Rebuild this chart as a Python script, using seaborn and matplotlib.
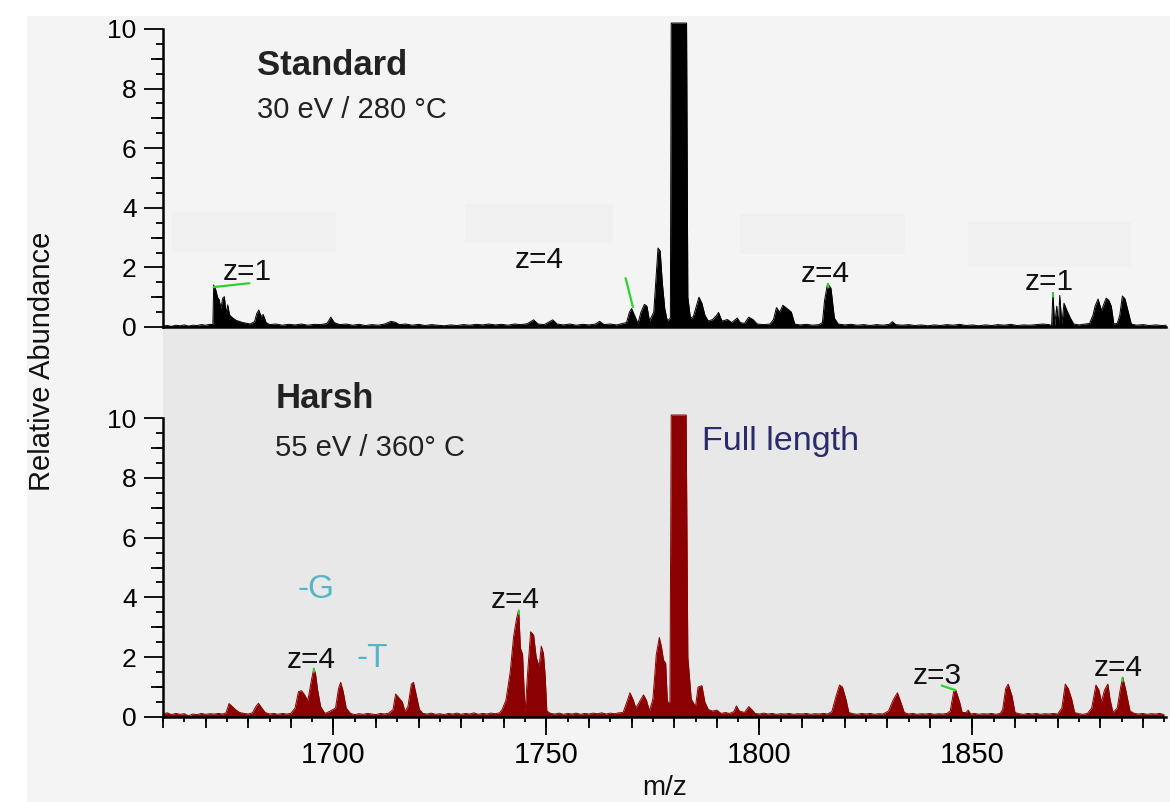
import matplotlib
matplotlib.use('Agg')
import matplotlib.pyplot as plt
import matplotlib.patches as mpatches
from matplotlib.ticker import MultipleLocator, NullLocator, FixedLocator
import seaborn as sns

# ---------------- data ----------------
top_mz = [1660, 1661, 1662, 1663, 1664, 1665, 1666, 1667, 1668, 1669, 1670, 1671, 1671.7,
          1671.9, 1672.4, 1672.8, 1673.2, 1673.6, 1674.0, 1674.4, 1674.8, 1675.2, 1675.6, 1676.0,
          1676.4, 1677.2, 1677.9, 1678.7, 1679.5, 1680.5, 1681.5, 1682.0, 1682.5, 1683.0, 1683.5,
          1684.2, 1685.0, 1686.5, 1688.0, 1689.5, 1691.0, 1692.5, 1694.0, 1695.5, 1697.0, 1698.5,
          1699.4, 1700.2, 1701.5, 1703.0, 1704.5, 1706.0, 1707.5, 1709.0, 1710.5, 1712.0, 1713.5,
          1714.5, 1715.5, 1717.0, 1718.5, 1720.0, 1721.5, 1723.0, 1724.5, 1726.0, 1727.5, 1729.0,
          1730.5, 1732.0, 1733.5, 1735.0, 1736.5, 1738.0, 1739.5, 1741.0, 1742.5, 1744.0, 1745.5,
          1747.0, 1748.0, 1749.5, 1751.5, 1752.5, 1754.0, 1755.5, 1757.0, 1758.5, 1760.0, 1761.5,
          1762.5, 1763.5, 1765.0, 1766.5, 1768.0, 1768.8, 1769.5, 1770.0, 1770.8, 1771.5, 1772.2,
          1773.0, 1773.6, 1774.2, 1775.2, 1775.8, 1776.2, 1776.7, 1777.2, 1777.8, 1778.4, 1779.1,
          1779.3, 1782.9, 1783.2, 1783.8, 1784.5, 1785.2, 1785.8, 1786.5, 1787.2, 1788.0, 1789.0,
          1790.0, 1790.4, 1791.2, 1792.5, 1793.5, 1794.8, 1795.5, 1796.5, 1797.5, 1798.5, 1799.5,
          1801.0, 1802.5, 1803.3, 1804.0, 1804.8, 1805.5, 1806.5, 1807.5, 1808.3, 1809.5, 1811.0,
          1812.5, 1814.0, 1814.8, 1815.3, 1816.0, 1816.8, 1817.6, 1818.5, 1820.0, 1821.5, 1823.0,
          1824.5, 1826.0, 1827.5, 1829.0, 1830.5, 1831.2, 1832.0, 1833.5, 1835.0, 1836.5, 1838.0,
          1839.5, 1841.0, 1842.5, 1844.0, 1845.5, 1847.0, 1848.5, 1850.0, 1851.5, 1853.0, 1854.5,
          1856.0, 1857.5, 1859.0, 1860.5, 1862.0, 1863.5, 1865.0, 1866.5, 1868.0, 1868.6, 1868.9,
          1869.3, 1869.8, 1870.2, 1870.5, 1871.0, 1871.5, 1872.2, 1873.0, 1873.8, 1875.0, 1876.5,
          1877.5, 1878.3, 1878.8, 1879.5, 1880.3, 1880.8, 1881.4, 1882.0, 1882.6, 1883.2, 1884.0,
          1884.6, 1885.2, 1885.8, 1886.6, 1887.3, 1888.5, 1890.0, 1891.5, 1893.0, 1894.5, 1895.5]
top_int = [0.03, 0.05, 0.02, 0.06, 0.04, 0.07, 0.03, 0.06, 0.05, 0.08, 0.06, 0.09, 0.08,
           1.41, 1.24, 1.00, 0.91, 0.62, 0.96, 1.02, 0.46, 0.74, 0.41, 0.35,
           0.30, 0.22, 0.19, 0.15, 0.13, 0.10, 0.18, 0.45, 0.57, 0.35, 0.42,
           0.15, 0.08, 0.10, 0.06, 0.09, 0.07, 0.10, 0.06, 0.09, 0.08, 0.12,
           0.33, 0.15, 0.08, 0.10, 0.06, 0.09, 0.05, 0.08, 0.06, 0.10, 0.19,
           0.16, 0.08, 0.10, 0.06, 0.09, 0.05, 0.08, 0.06, 0.04, 0.07, 0.05,
           0.08, 0.06, 0.09, 0.07, 0.10, 0.07, 0.09, 0.06, 0.10, 0.08, 0.11,
           0.24, 0.10, 0.08, 0.24, 0.10, 0.07, 0.10, 0.06, 0.09, 0.07, 0.10,
           0.19, 0.08, 0.10, 0.07, 0.12, 0.15, 0.50, 0.62, 0.35, 0.12, 0.50,
           0.76, 0.70, 0.20, 0.50, 1.80, 2.65, 2.55, 1.50, 0.60, 0.20, 0.30,
           10.2, 10.2, 1.00, 0.30, 0.35, 0.70, 1.00, 0.80, 0.40, 0.20, 0.25,
           0.40, 0.49, 0.20, 0.25, 0.15, 0.30, 0.15, 0.12, 0.33, 0.25, 0.10,
           0.08, 0.10, 0.25, 0.65, 0.50, 0.73, 0.62, 0.50, 0.10, 0.07, 0.09,
           0.06, 0.08, 0.15, 0.90, 1.46, 1.30, 0.30, 0.10, 0.07, 0.09, 0.06,
           0.08, 0.05, 0.08, 0.06, 0.09, 0.18, 0.08, 0.06, 0.08, 0.05, 0.07,
           0.04, 0.07, 0.05, 0.08, 0.06, 0.09, 0.05, 0.07, 0.04, 0.07, 0.05,
           0.08, 0.06, 0.09, 0.05, 0.07, 0.06, 0.08, 0.10, 0.08, 0.05, 1.16,
           0.05, 0.70, 0.05, 1.06, 0.10, 0.80, 0.55, 0.30, 0.10, 0.07, 0.10,
           0.12, 0.40, 0.70, 0.94, 0.55, 0.75, 0.97, 0.90, 0.70, 0.10, 0.12,
           0.40, 1.04, 0.95, 0.50, 0.10, 0.06, 0.08, 0.05, 0.07, 0.05, 0.06]

bot_mz = [1660.0, 1661.0, 1662.0, 1663.0, 1664.0, 1665.0, 1666.0, 1667.0, 1668.0, 1669.0, 1670.0,
          1671.0, 1672.0, 1673.0, 1674.0, 1674.8, 1675.5, 1676.2, 1677.0, 1678.0, 1679.0, 1680.0,
          1681.0, 1681.8, 1682.4, 1683.2, 1684.0, 1685.0, 1686.0, 1687.0, 1688.0, 1689.0, 1690.0,
          1691.0, 1691.8, 1692.5, 1693.2, 1694.0, 1694.8, 1695.4, 1695.8, 1696.3, 1697.0, 1698.0,
          1699.0, 1700.5, 1701.2, 1701.7, 1702.3, 1703.0, 1704.0, 1705.0, 1706.0, 1707.0, 1708.0,
          1709.0, 1710.0, 1711.0, 1712.0, 1713.0, 1714.0, 1714.6, 1715.3, 1716.2, 1716.8, 1717.5,
          1718.3, 1718.8, 1719.5, 1720.2, 1721.0, 1722.0, 1723.0, 1724.0, 1725.0, 1726.0, 1727.0,
          1728.0, 1729.0, 1730.0, 1731.0, 1732.0, 1733.0, 1734.0, 1735.0, 1736.0, 1737.0, 1738.0,
          1739.0, 1739.6, 1740.5, 1741.5, 1742.3, 1743.0, 1743.5, 1743.9, 1744.4, 1745.0, 1745.6,
          1746.3, 1747.0, 1747.6, 1748.3, 1748.8, 1749.3, 1749.7, 1750.1, 1751.0, 1752.0, 1753.0,
          1754.0, 1755.0, 1756.0, 1757.0, 1758.0, 1759.0, 1760.0, 1761.0, 1762.0, 1763.0, 1764.0,
          1765.0, 1766.0, 1767.0, 1768.0, 1769.0, 1769.6, 1770.3, 1771.0, 1772.0, 1772.8, 1773.5,
          1774.2, 1775.0, 1775.8, 1776.5, 1777.0, 1777.5, 1778.0, 1778.4, 1779.0, 1779.3, 1782.8,
          1783.2, 1784.0, 1785.0, 1785.6, 1786.5, 1787.2, 1788.0, 1789.0, 1790.0, 1791.0, 1792.0,
          1793.0, 1794.0, 1794.6, 1795.3, 1796.5, 1797.5, 1798.2, 1799.0, 1800.0, 1801.0, 1802.0,
          1803.0, 1804.0, 1805.0, 1806.0, 1807.0, 1808.0, 1809.0, 1810.0, 1811.0, 1812.0, 1813.0,
          1814.0, 1815.0, 1816.0, 1817.0, 1818.0, 1818.8, 1819.5, 1820.3, 1821.0, 1822.0, 1823.0,
          1824.0, 1825.0, 1826.0, 1827.0, 1828.0, 1829.0, 1830.3, 1831.5, 1832.4, 1833.3, 1834.0,
          1835.0, 1836.0, 1837.0, 1838.0, 1839.0, 1840.0, 1841.0, 1842.0, 1843.0, 1844.0, 1844.8,
          1845.6, 1846.1, 1847.0, 1847.6, 1848.5, 1849.0, 1849.6, 1850.5, 1851.5, 1852.5, 1853.5,
          1854.5, 1855.5, 1856.5, 1857.1, 1857.8, 1858.4, 1859.3, 1860.0, 1861.0, 1862.0, 1863.0,
          1864.0, 1865.0, 1866.0, 1867.0, 1868.0, 1869.0, 1870.0, 1871.0, 1871.8, 1872.5, 1873.3,
          1874.0, 1875.0, 1876.0, 1877.0, 1878.0, 1879.0, 1879.7, 1880.3, 1881.0, 1881.8, 1882.3,
          1883.0, 1884.0, 1884.8, 1885.3, 1886.0, 1887.0, 1888.0, 1889.0, 1890.0, 1891.0, 1892.0,
          1893.0, 1894.0, 1895.0]
bot_int = [0.10, 0.14, 0.08, 0.12, 0.09, 0.11, 0.04, 0.10, 0.08, 0.12, 0.09,
           0.11, 0.10, 0.12, 0.10, 0.14, 0.45, 0.36, 0.25, 0.15, 0.12, 0.10,
           0.14, 0.35, 0.46, 0.30, 0.15, 0.10, 0.12, 0.09, 0.12, 0.10, 0.12,
           0.30, 0.85, 0.88, 0.75, 0.55, 1.20, 1.63, 1.45, 0.90, 0.35, 0.12,
           0.18, 0.30, 0.95, 1.16, 0.85, 0.30, 0.12, 0.08, 0.11, 0.09, 0.12,
           0.10, 0.08, 0.12, 0.10, 0.13, 0.25, 0.77, 0.65, 0.50, 0.18, 0.35,
           1.10, 1.16, 0.70, 0.25, 0.12, 0.10, 0.13, 0.09, 0.11, 0.08, 0.12,
           0.10, 0.13, 0.09, 0.12, 0.10, 0.14, 0.09, 0.12, 0.10, 0.13, 0.11,
           0.14, 0.25, 0.56, 1.50, 2.69, 3.30, 3.58, 2.30, 2.10, 0.15, 1.50,
           2.85, 2.74, 2.00, 1.68, 2.37, 2.13, 1.40, 0.20, 0.12, 0.10, 0.13,
           0.09, 0.12, 0.10, 0.13, 0.09, 0.12, 0.10, 0.13, 0.11, 0.14, 0.10,
           0.13, 0.11, 0.14, 0.15, 0.55, 0.81, 0.60, 0.30, 0.55, 0.74, 0.55,
           0.20, 0.60, 2.10, 2.66, 2.35, 1.90, 1.80, 0.50, 0.50, 10.1, 10.1,
           2.00, 0.60, 0.35, 1.00, 1.05, 0.50, 0.25, 0.20, 0.23, 0.12, 0.15,
           0.12, 0.18, 0.37, 0.20, 0.15, 0.35, 0.25, 0.12, 0.10, 0.13, 0.10,
           0.12, 0.09, 0.11, 0.10, 0.12, 0.09, 0.11, 0.10, 0.12, 0.09, 0.11,
           0.10, 0.12, 0.10, 0.18, 0.70, 1.07, 1.00, 0.60, 0.15, 0.11, 0.09,
           0.12, 0.10, 0.12, 0.09, 0.11, 0.10, 0.20, 0.60, 0.81, 0.45, 0.15,
           0.10, 0.12, 0.09, 0.11, 0.10, 0.12, 0.09, 0.11, 0.10, 0.12, 0.20,
           0.85, 0.90, 0.50, 0.15, 0.15, 0.23, 0.10, 0.12, 0.09, 0.11, 0.10,
           0.12, 0.09, 0.12, 0.25, 0.95, 1.10, 0.70, 0.15, 0.11, 0.09, 0.12,
           0.10, 0.12, 0.09, 0.11, 0.10, 0.12, 0.10, 0.30, 1.10, 0.95, 0.60,
           0.15, 0.11, 0.09, 0.12, 0.30, 1.07, 0.90, 0.50, 0.90, 1.10, 0.60,
           0.15, 0.30, 1.00, 1.33, 0.90, 0.20, 0.12, 0.10, 0.12, 0.09, 0.11,
           0.10, 0.12, 0.08]

y_ticks = [0, 2, 4, 6, 8, 10]
x_ticks = [1700, 1750, 1800, 1850]

# ---------------- style ----------------
sns.set_style('ticks')
plt.rcParams['font.family'] = ['Liberation Sans', 'DejaVu Sans']

W, H = 1170, 802
fig = plt.figure(figsize=(W / 100, H / 100), dpi=100)
fig.patch.set_facecolor('white')


def fx(px):
    return px / W


def fy(py):
    return 1 - py / H


fig.add_artist(mpatches.Rectangle((fx(27), 0), 1 - fx(27), fy(16), transform=fig.transFigure,
                                  facecolor='#f4f4f4', edgecolor='none', zorder=-2))
for (l, t, r, b) in [(172, 212, 336, 252), (465, 204, 613, 243), (740, 214, 905, 254), (968, 222, 1131, 267)]:
    fig.add_artist(mpatches.Rectangle((fx(l), fy(b)), fx(r) - fx(l), fy(t) - fy(b),
                                      transform=fig.transFigure, facecolor='#f0f0f0',
                                      edgecolor='none', zorder=-1))

PXX = 4.26  # px per m/z unit
x0 = 1660
x1 = x0 + (W - 163) / PXX

axb = fig.add_axes([fx(163), fy(717), fx(W) - fx(163), (717 - 328) / H])
axb.set_facecolor('#e8e8e8')
axb.set_ylim(0, (717 - 328) / 29.9)
axt = fig.add_axes([fx(163), fy(327), fx(W) - fx(163), (327 - 22) / H])
axt.set_facecolor('none')
axt.set_ylim(0, (327 - 22) / 29.8)

sns.lineplot(x=top_mz, y=top_int, ax=axt, color='black', lw=0.7, estimator=None, sort=False)
axt.fill_between(top_mz, top_int, color='black', lw=0)
sns.lineplot(x=bot_mz, y=bot_int, ax=axb, color='#8b0000', lw=0.7, estimator=None, sort=False)
axb.fill_between(bot_mz, bot_int, color='#8b0000', lw=0)

for ax in (axt, axb):
    ax.set_xlim(x0, x1)
    ax.set_xlabel('')
    ax.set_ylabel('')
    for s in ('top', 'right'):
        ax.spines[s].set_visible(False)
    ax.spines['left'].set_bounds(0, 10)
    ax.spines['bottom'].set_bounds(1660, 1895.5)
    for s in ('left', 'bottom'):
        ax.spines[s].set_linewidth(1.8)
        ax.spines[s].set_color('black')
    ax.set_yticks(y_ticks)
    ax.yaxis.set_minor_locator(FixedLocator([0.5 * i for i in range(21)]))
    ax.tick_params(axis='y', which='major', length=14, width=1.3, direction='out',
                   labelsize=19, pad=5, colors='black')
    ax.tick_params(axis='y', which='minor', length=5, width=1.3, direction='out', colors='black')
    sec = ax.secondary_yaxis('left')
    sec.set_yticks([1, 3, 5, 7, 9])
    sec.yaxis.set_minor_locator(NullLocator())
    sec.tick_params(axis='y', which='major', length=9, width=1.3, direction='out',
                    labelleft=False, colors='black')
    sec.spines['left'].set_visible(False)

axt.tick_params(axis='x', which='both', bottom=False, labelbottom=False)

axb.set_xticks(x_ticks)
axb.xaxis.set_minor_locator(MultipleLocator(5))
axb.tick_params(axis='x', which='major', length=13, width=1.3, direction='out',
                labelsize=21, pad=4, colors='black')
axb.tick_params(axis='x', which='minor', length=3.6, width=1.3, direction='out', colors='black')
secx = axb.secondary_xaxis('bottom')
secx.set_xticks(list(range(1660, 1896, 10)))
secx.xaxis.set_minor_locator(NullLocator())
secx.tick_params(axis='x', which='major', length=8, width=1.3, direction='out',
                 labelbottom=False, colors='black')
secx.spines['bottom'].set_visible(False)

# ---------------- texts ----------------
txt = '#111111'
axt.text(1682.0, 8.46, 'Standard', fontsize=25, fontweight='bold', color='#222222', va='baseline')
axt.text(1682.0, 7.01, '30 eV / 280 °C', fontsize=21, color='#222222', va='baseline')
axt.text(1674.0, 1.58, 'z=1', fontsize=21.5, color=txt, va='baseline')
axt.text(1742.5, 1.98, 'z=4', fontsize=21.5, color=txt, va='baseline')
axt.text(1809.7, 1.51, 'z=4', fontsize=21.5, color=txt, va='baseline')
axt.text(1862.4, 1.24, 'z=1', fontsize=21.5, color=txt, va='baseline')

axb.text(1686.4, 10.33, 'Harsh', fontsize=25, fontweight='bold', color='#222222', va='baseline')
axb.text(1686.4, 8.73, '55 eV / 360° C', fontsize=21, color='#222222', va='baseline')
axb.text(1786.6, 8.93, 'Full length', fontsize=24.5, color='#2b2a6b', va='baseline')
axb.text(1691.6, 3.98, '-G', fontsize=24, color='#55b4c8', va='baseline')
axb.text(1705.5, 1.67, '-T', fontsize=24, color='#55b4c8', va='baseline')
axb.text(1689.0, 1.64, 'z=4', fontsize=21.5, color=txt, va='baseline')
axb.text(1737.0, 3.65, 'z=4', fontsize=21.5, color=txt, va='baseline')
axb.text(1836.0, 1.10, 'z=3', fontsize=21.5, color=txt, va='baseline')
axb.text(1878.6, 1.37, 'z=4', fontsize=21.5, color=txt, va='baseline')

green = '#2ed12e'
axt.plot([1671.9, 1680.3], [1.34, 1.47], color=green, lw=1.6)
axt.plot([1768.6, 1770.3], [1.64, 0.67], color=green, lw=1.6)
axt.plot([1816.1, 1816.2], [1.45, 1.33], color=green, lw=1.6)
axt.plot([1868.9, 1868.95], [1.12, 1.03], color=green, lw=1.6)
axb.plot([1695.4, 1695.5], [1.60, 1.52], color=green, lw=1.6)
axb.plot([1743.5, 1743.55], [3.55, 3.45], color=green, lw=1.6)
axb.plot([1842.8, 1846.0], [1.05, 0.90], color=green, lw=1.6)
axb.plot([1885.2, 1885.25], [1.30, 1.20], color=green, lw=1.6)

fig.text(fx(42), fy(361), 'Relative Abundance', rotation=90, ha='center', va='center',
         fontsize=21, color=txt)
fig.text(fx(665), fy(801), 'm/z', ha='center', va='bottom', fontsize=20, color=txt)

fig.savefig('out.png', dpi=100, facecolor=fig.get_facecolor())
